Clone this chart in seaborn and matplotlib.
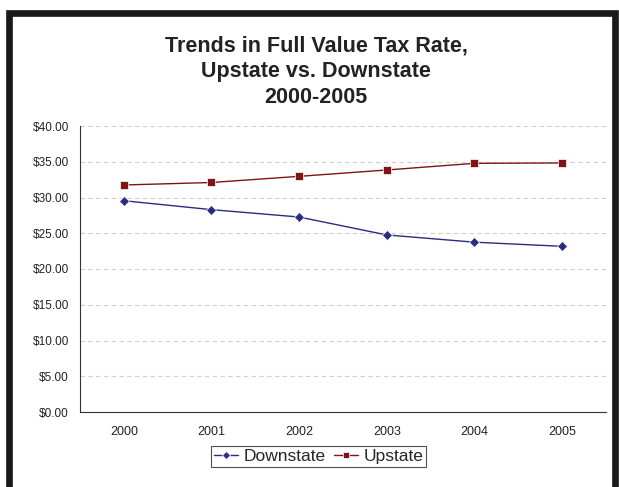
import matplotlib
matplotlib.use("Agg")
import matplotlib.pyplot as plt
from matplotlib.patches import Rectangle
from matplotlib.ticker import FuncFormatter, FixedLocator
import seaborn as sns
import pandas as pd

# data
years = [2000, 2001, 2002, 2003, 2004, 2005]
downstate = [29.55, 28.3, 27.27, 24.76, 23.75, 23.17]
upstate = [31.75, 32.1, 32.96, 33.85, 34.78, 34.83]

df = pd.DataFrame({
    'Year': years * 2,
    'Rate': downstate + upstate,
    'Series': ['Downstate'] * len(years) + ['Upstate'] * len(years),
})

sns.set_style('white')
plt.rcParams['font.family'] = ['Liberation Sans', 'DejaVu Sans']

fig = plt.figure(figsize=(6.19, 4.87), dpi=100)
ax = fig.add_axes([80 / 619, 1 - 412 / 487, 526 / 619, 286 / 487])

sns.lineplot(data=df, x='Year', y='Rate', hue='Series', style='Series',
             palette={'Downstate': '#2b2b80', 'Upstate': '#7f1416'},
             markers={'Downstate': 'D', 'Upstate': 's'}, dashes=False,
             linewidth=1.0, markeredgewidth=0.5, ax=ax)
for line, ms in zip(ax.lines, [4.6, 5.5]):
    line.set_markersize(ms)

ax.set_xlim(1999.5, 2005.5)
ax.set_ylim(0, 40)
ax.set_xticks(years)
ax.set_xticklabels([str(y) for y in years], fontsize=9, color='#222222')
ax.xaxis.set_minor_locator(FixedLocator([y - 0.5 for y in years] + [2005.5]))
ax.tick_params(axis='x', which='major', length=0, pad=10)
ax.tick_params(axis='x', which='minor', length=3, direction='out', color='#333333', width=0.8)
ax.set_yticks(range(0, 41, 5))
ax.yaxis.set_major_formatter(FuncFormatter(lambda v, p: f'${v:.2f}'))
ax.tick_params(axis='y', length=3, direction='out', color='#333333', width=0.8,
               labelsize=8.5, labelcolor='#222222', pad=5)
ax.grid(axis='y', linestyle=(0, (4, 3)), color='#d0d0d0', linewidth=0.8)
ax.set_axisbelow(True)
for s in ['top', 'right']:
    ax.spines[s].set_visible(False)
for s in ['left', 'bottom']:
    ax.spines[s].set_color('#333333')
    ax.spines[s].set_linewidth(0.8)
ax.set_xlabel('')
ax.set_ylabel('')

leg = ax.legend(title=None, loc='center', bbox_to_anchor=(318.5 / 619, 1 - 456.5 / 487),
                bbox_transform=fig.transFigure, ncol=2, frameon=True, fancybox=False,
                edgecolor='#222222', fontsize=12.5, handlelength=1.4, handletextpad=0.3,
                columnspacing=0.5, borderpad=0.15, borderaxespad=0)
leg.get_frame().set_linewidth(0.8)
for h, ms in zip(leg.legend_handles, [3.8, 4.5]):
    h.set_markersize(ms)

fig.text(316 / 619, 1 - 71.5 / 487, 'Trends in Full Value Tax Rate,\nUpstate vs. Downstate\n2000-2005',
         ha='center', va='center', fontsize=15.5, fontweight='bold', color='#222222',
         linespacing=1.3)

# thick black frame around the chart (bottom edge is cut off)
fig.patches.append(Rectangle((9 / 619, -0.1), 606 / 619, 1.1 - 12.5 / 487,
                             transform=fig.transFigure, fill=False,
                             edgecolor='#1a1a1a', linewidth=4.8))

fig.savefig('out.png', dpi=100)
